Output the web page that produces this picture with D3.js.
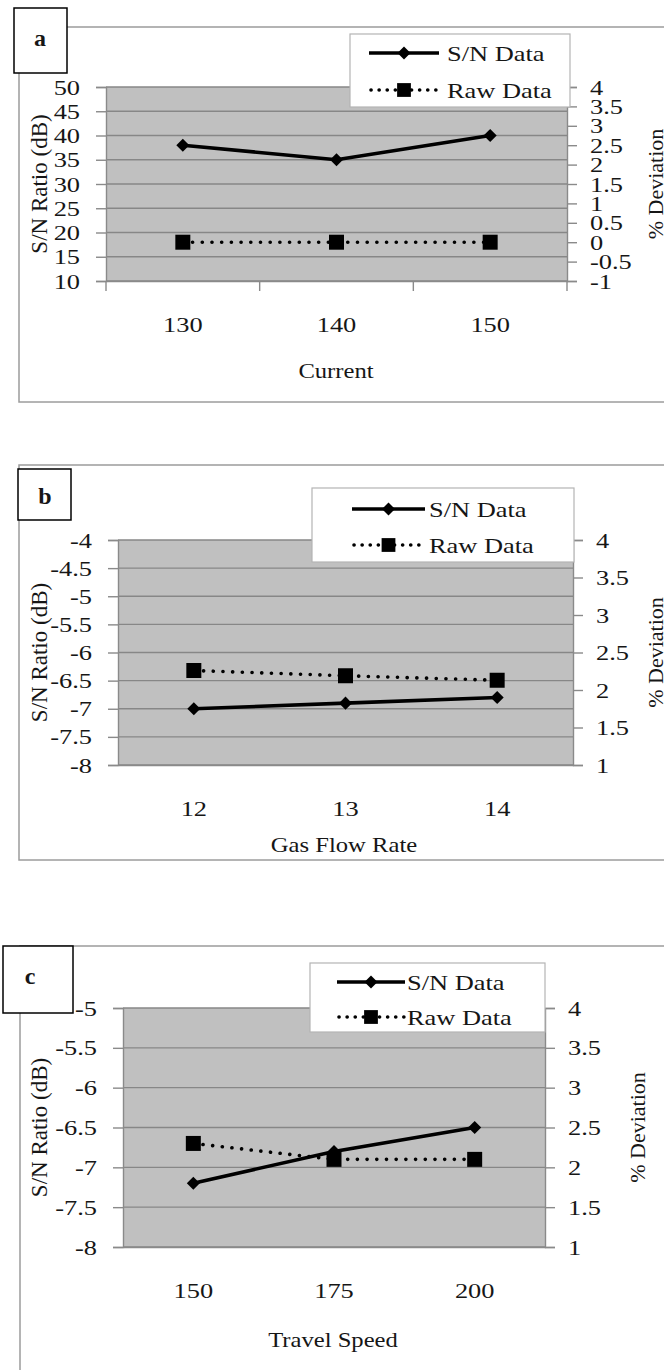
<!DOCTYPE html>
<html>
<head>
<meta charset="utf-8">
<script src="https://cdnjs.cloudflare.com/ajax/libs/d3/7.8.5/d3.min.js"></script>
<style>
  body { margin: 0; background: #fff; }
  text { font-family: "Liberation Serif", "Times New Roman", serif; fill: #161616; }
</style>
</head>
<body>
<script>
// ---- data ----
var currentCats = ["130", "140", "150"];
var currentSN = [38, 35, 40];
var currentRaw = [0, 0, 0];
var currentLeftTicks = [10, 15, 20, 25, 30, 35, 40, 45, 50];
var currentRightTicks = [-1, -0.5, 0, 0.5, 1, 1.5, 2, 2.5, 3, 3.5, 4];

var gasCats = ["12", "13", "14"];
var gasSN = [-7, -6.9, -6.8];
var gasRaw = [2.26, 2.19, 2.13];
var gasLeftTicks = [-8, -7.5, -7, -6.5, -6, -5.5, -5, -4.5, -4];
var gasRightTicks = [1, 1.5, 2, 2.5, 3, 3.5, 4];

var speedCats = ["150", "175", "200"];
var speedSN = [-7.2, -6.8, -6.5];
var speedRaw = [2.3, 2.1, 2.1];
var speedLeftTicks = [-8, -7.5, -7, -6.5, -6, -5.5, -5];
var speedRightTicks = [1, 1.5, 2, 2.5, 3, 3.5, 4];

var seriesNames = ["S/N Data", "Raw Data"];
var leftTitle = "S/N Ratio (dB)";
var rightTitle = "% Deviation";

// ---- layout of the three panels ----
var panels = [
  { letter: "a", cats: currentCats, sn: currentSN, raw: currentRaw,
    leftTicks: currentLeftTicks, rightTicks: currentRightTicks, xTitle: "Current",
    frame: {x: 19, y: 27, bottom: 402},
    box: {x: 14, y: 8, w: 53, h: 65, tx: 40, ty: 38},
    plot: {l: 106, r: 567, t: 87, b: 281},
    legend: {x: 350, y: 34, w: 220, h: 73, x0: 369, x1: 439, tx: 447, r1: 53, r2: 90},
    xTitleX: 336, xTitleY: 370, leftTitleX: 47, rightTitleX: 663, xTickMarks: true },
  { letter: "b", cats: gasCats, sn: gasSN, raw: gasRaw,
    leftTicks: gasLeftTicks, rightTicks: gasRightTicks, xTitle: "Gas Flow Rate",
    frame: {x: 19, y: 465, bottom: 860},
    box: {x: 18, y: 469, w: 53, h: 51, tx: 45, ty: 496},
    plot: {l: 118, r: 573, t: 540, b: 765},
    legend: {x: 312, y: 488, w: 262, h: 74, x0: 352, x1: 425, tx: 429, r1: 509, r2: 545},
    xTitleX: 344, xTitleY: 844, leftTitleX: 47, rightTitleX: 663, xTickMarks: false },
  { letter: "c", cats: speedCats, sn: speedSN, raw: speedRaw,
    leftTicks: speedLeftTicks, rightTicks: speedRightTicks, xTitle: "Travel Speed",
    frame: {x: 20, y: 946, bottom: 1400},
    box: {x: 3, y: 946, w: 70, h: 67, tx: 30, ty: 976},
    plot: {l: 123, r: 545, t: 1008, b: 1247},
    legend: {x: 310, y: 963, w: 235, h: 69, x0: 337, x1: 405, tx: 407, r1: 982, r2: 1017},
    xTitleX: 333, xTitleY: 1339, leftTitleX: 47, rightTitleX: 645, xTickMarks: false }
];

var W = 664, H = 1370;
var K = 1.2; // the scanned figure is stretched sideways
var gridColor = "#878787", axisColor = "#8a8a8a", plotFill = "#c0c0c0";

var svg = d3.select("body").append("svg")
  .attr("width", W).attr("height", H);

function stretch(sel) {
  sel.each(function() {
    var t = d3.select(this);
    var x = +t.attr("x") || 0;
    t.attr("x", x / K).attr("transform", "scale(" + K + ",1)");
  });
}

function diamond(g, x, y) {
  g.append("path")
    .attr("d", d3.symbol(d3.symbolSquare, 85)())
    .attr("transform", "translate(" + x + "," + y + ") rotate(45)")
    .attr("fill", "#000");
}

function square(g, x, y, size) {
  g.append("path")
    .attr("d", d3.symbol(d3.symbolSquare, size)())
    .attr("transform", "translate(" + x + "," + y + ")")
    .attr("fill", "#000");
}

panels.forEach(function(p) {
  var g = svg.append("g");

  // outer frame (runs off the right edge)
  g.append("rect")
    .attr("x", p.frame.x).attr("y", p.frame.y)
    .attr("width", 720 - p.frame.x).attr("height", p.frame.bottom - p.frame.y)
    .attr("fill", "none").attr("stroke", "#9c9c9c").attr("stroke-width", 1.5);

  var x = d3.scaleBand().domain(p.cats).range([p.plot.l, p.plot.r]);
  var yL = d3.scaleLinear().domain(d3.extent(p.leftTicks)).range([p.plot.b, p.plot.t]);
  var yR = d3.scaleLinear().domain(d3.extent(p.rightTicks)).range([p.plot.b, p.plot.t]);

  // plot area
  g.append("rect")
    .attr("x", p.plot.l).attr("y", p.plot.t)
    .attr("width", p.plot.r - p.plot.l).attr("height", p.plot.b - p.plot.t)
    .attr("fill", plotFill);

  // gridlines on the left scale
  g.append("g").selectAll("line")
    .data(p.leftTicks)
    .enter().append("line")
      .attr("x1", p.plot.l).attr("x2", p.plot.r)
      .attr("y1", function(d) { return yL(d); })
      .attr("y2", function(d) { return yL(d); })
      .attr("stroke", gridColor).attr("stroke-width", 1.4);

  // left axis
  var left = g.append("g")
    .attr("transform", "translate(" + p.plot.l + ",0)")
    .call(d3.axisLeft(yL).tickValues(p.leftTicks).tickSize(10).tickPadding(16)
      .tickFormat(function(d) { return String(d); }));
  left.select(".domain").attr("stroke", axisColor).attr("stroke-width", 1.4);
  left.selectAll(".tick line").attr("stroke", axisColor).attr("stroke-width", 1.4);
  left.selectAll(".tick text").attr("font-size", 22).attr("fill", "#161616")
    .attr("font-family", "Liberation Serif").call(stretch);

  // right axis
  var right = g.append("g")
    .attr("transform", "translate(" + p.plot.r + ",0)")
    .call(d3.axisRight(yR).tickValues(p.rightTicks).tickSize(10).tickPadding(13)
      .tickFormat(function(d) { return String(d); }));
  right.select(".domain").attr("stroke", axisColor).attr("stroke-width", 1.4);
  right.selectAll(".tick line").attr("stroke", axisColor).attr("stroke-width", 1.4);
  right.selectAll(".tick text").attr("font-size", 22).attr("fill", "#161616")
    .attr("font-family", "Liberation Serif").call(stretch);

  // bottom axis
  var bottom = g.append("g")
    .attr("transform", "translate(0," + p.plot.b + ")")
    .call(d3.axisBottom(x).tickSize(0).tickPadding(35));
  bottom.select(".domain").attr("stroke", axisColor).attr("stroke-width", 1.4);
  bottom.selectAll(".tick text").attr("font-size", 22).attr("fill", "#161616")
    .attr("font-family", "Liberation Serif").call(stretch);
  if (p.xTickMarks) {
    var edges = p.cats.map(function(c) { return x(c); }).concat([x.range()[1]]);
    bottom.selectAll(".edge")
      .data(edges)
      .enter().append("line")
        .attr("x1", function(d) { return d; }).attr("x2", function(d) { return d; })
        .attr("y1", 0).attr("y2", 10)
        .attr("stroke", axisColor).attr("stroke-width", 1.4);
  }

  var cx = function(d, i) { return x(p.cats[i]) + x.bandwidth() / 2; };

  // Raw Data (right axis), dotted
  g.append("path")
    .datum(p.raw)
    .attr("d", d3.line().x(cx).y(function(d) { return yR(d); }))
    .attr("fill", "none").attr("stroke", "#000").attr("stroke-width", 3.6)
    .attr("stroke-linecap", "round").attr("stroke-dasharray", "0.1 9.6");

  // S/N Data (left axis), solid
  g.append("path")
    .datum(p.sn)
    .attr("d", d3.line().x(cx).y(function(d) { return yL(d); }))
    .attr("fill", "none").attr("stroke", "#000").attr("stroke-width", 3.6);

  p.raw.forEach(function(d, i) { square(g, cx(d, i), yR(d), 225); });
  p.sn.forEach(function(d, i) { diamond(g, cx(d, i), yL(d)); });

  // legend
  var L = p.legend;
  g.append("rect")
    .attr("x", L.x).attr("y", L.y).attr("width", L.w).attr("height", L.h)
    .attr("fill", "#fff").attr("stroke", "#b4b4b4").attr("stroke-width", 1.2);
  var mid = (L.x0 + L.x1) / 2;
  g.append("line")
    .attr("x1", L.x0).attr("x2", L.x1).attr("y1", L.r1).attr("y2", L.r1)
    .attr("stroke", "#000").attr("stroke-width", 3.6);
  diamond(g, mid, L.r1);
  g.append("line")
    .attr("x1", L.x0 + 2).attr("x2", L.x1).attr("y1", L.r2).attr("y2", L.r2)
    .attr("stroke", "#000").attr("stroke-width", 3.6)
    .attr("stroke-linecap", "round").attr("stroke-dasharray", "0.1 8");
  square(g, mid, L.r2, 190);
  g.selectAll(".legtext")
    .data(seriesNames)
    .enter().append("text")
      .attr("x", L.tx)
      .attr("y", function(d, i) { return i === 0 ? L.r1 : L.r2; })
      .attr("dy", "0.35em")
      .attr("font-size", 22)
      .text(function(d) { return d; })
      .call(stretch);

  // axis titles
  g.append("text")
    .attr("transform", "translate(" + p.leftTitleX + "," + (p.plot.t + p.plot.b) / 2 + ") rotate(-90)")
    .attr("text-anchor", "middle").attr("font-size", 23)
    .text(leftTitle);
  g.append("text")
    .attr("transform", "translate(" + p.rightTitleX + "," + (p.plot.t + p.plot.b) / 2 + ") rotate(-90)")
    .attr("text-anchor", "middle").attr("font-size", 22)
    .text(rightTitle);
  g.append("text")
    .attr("x", p.xTitleX).attr("y", p.xTitleY).attr("dy", "0.35em")
    .attr("text-anchor", "middle").attr("font-size", 22)
    .text(p.xTitle)
    .call(function(s) {
      s.attr("x", p.xTitleX / 1.12).attr("transform", "scale(1.12,1)");
    });

  // panel letter box
  g.append("rect")
    .attr("x", p.box.x).attr("y", p.box.y).attr("width", p.box.w).attr("height", p.box.h)
    .attr("fill", "#fff").attr("stroke", "#000").attr("stroke-width", 1.5);
  g.append("text")
    .attr("x", p.box.tx).attr("y", p.box.ty).attr("dy", "0.35em")
    .attr("text-anchor", "middle").attr("font-size", 24).attr("font-weight", "bold")
    .attr("fill", "#000")
    .text(p.letter);
});
</script>
</body>
</html>
